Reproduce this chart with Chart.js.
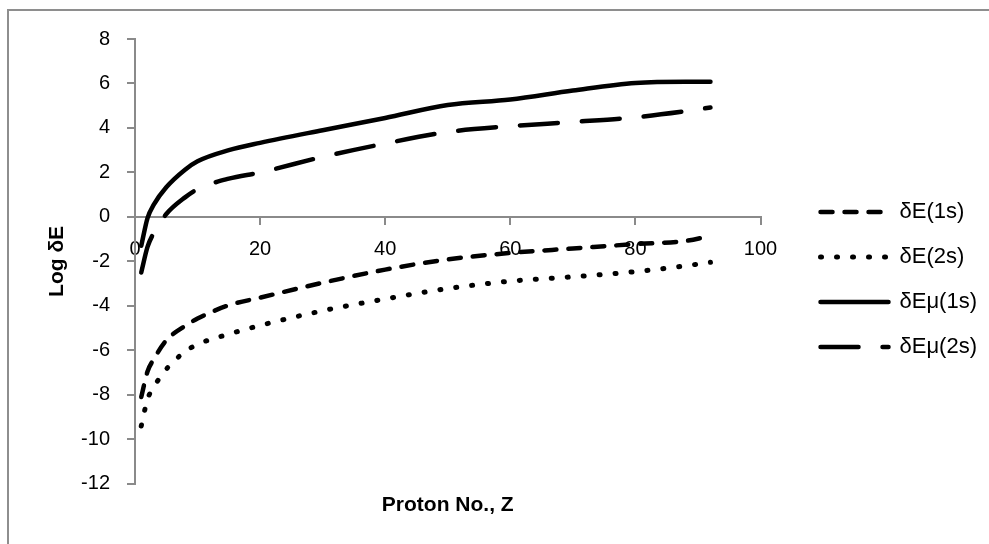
<!DOCTYPE html>
<html>
<head>
<meta charset="utf-8">
<script src="https://cdn.jsdelivr.net/npm/chart.js@4.4.0/dist/chart.umd.min.js"></script>
<style>
  html, body { margin: 0; padding: 0; background: #fff; overflow: hidden; }
  #frame { position: absolute; left: 7px; top: 9px; width: 1100px; height: 700px;
           border-left: 2px solid #8e8e8e; border-top: 2px solid #8e8e8e; }
  #chart { position: absolute; left: 0; top: 0; }
</style>
</head>
<body>
<div id="frame"></div>
<canvas id="chart" width="989" height="544"></canvas>
<script>
// proton number Z (x) and log of the energy shift for each series
const protonZ = [1, 2, 3, 5, 8, 10, 15, 20, 30, 40, 50, 60, 70, 80, 88, 92];
const dE1s    = [-8.1, -6.95, -6.4, -5.55, -4.9, -4.57, -3.97, -3.63, -2.96, -2.37, -1.91, -1.62, -1.42, -1.22, -1.08, -0.85];
const dE2s    = [-9.4, -8.2, -7.65, -6.85, -6.06, -5.73, -5.27, -4.88, -4.22, -3.69, -3.22, -2.89, -2.69, -2.46, -2.2, -2.04];
const dEmu1s  = [-1.3, -0.05, 0.55, 1.33, 2.12, 2.5, 3.0, 3.33, 3.9, 4.45, 5.03, 5.28, 5.68, 6.02, 6.08, 6.08];
const dEmu2s  = [-2.5, -1.35, -0.72, 0.13, 0.88, 1.25, 1.72, 2.0, 2.7, 3.3, 3.82, 4.08, 4.27, 4.48, 4.75, 4.92];

const seriesLabels = ['δE(1s)', 'δE(2s)', 'δEμ(1s)', 'δEμ(2s)'];

function points(values) {
  return protonZ.map((z, i) => ({ x: z, y: values[i] }));
}

const axisGrey = '#8a8a8a';

const datasets = [
  { label: seriesLabels[0], data: points(dE1s), borderDash: [12, 12], borderWidth: 4.5 },
  { label: seriesLabels[1], data: points(dE2s), borderDash: [1, 15], borderWidth: 5 },
  { label: seriesLabels[2], data: points(dEmu1s), borderDash: [], borderWidth: 4.5 },
  { label: seriesLabels[3], data: points(dEmu2s), borderDash: [38, 24], borderWidth: 4.5 }
].map(d => Object.assign(d, {
  borderColor: '#000',
  backgroundColor: '#000',
  pointRadius: 0,
  borderCapStyle: 'round',
  cubicInterpolationMode: 'monotone',
  fill: false
}));

new Chart(document.getElementById('chart'), {
  type: 'line',
  data: { datasets: datasets },
  options: {
    responsive: false,
    animation: false,
    devicePixelRatio: 1,
    layout: { padding: { left: 40, top: 39, bottom: 24, right: 2 } },
    scales: {
      x: {
        type: 'linear',
        min: 0,
        max: 100,
        position: { y: 0 },
        ticks: { stepSize: 20, color: '#000', font: { family: 'Liberation Sans', size: 20 }, padding: 14 },
        grid: { drawOnChartArea: false, tickLength: 7, color: axisGrey, lineWidth: 2 },
        border: { color: axisGrey, width: 2 }
      },
      y: {
        type: 'linear',
        min: -12,
        max: 8,
        ticks: { stepSize: 2, color: '#000', font: { family: 'Liberation Sans', size: 20 }, padding: 17 },
        grid: { drawOnChartArea: false, tickLength: 8, color: axisGrey, lineWidth: 2 },
        border: { color: axisGrey, width: 2 },
        title: {
          display: true,
          text: 'Log δE',
          color: '#000',
          font: { family: 'Liberation Sans', size: 21, weight: 'bold' },
          padding: { top: 5, bottom: 0 }
        },
        afterFit: s => { s.width = 95; }
      },
      // empty spacer between plot area and legend
      gap: {
        position: 'right',
        display: true,
        ticks: { display: false },
        grid: { display: false },
        border: { display: false },
        afterFit: s => { s.width = 37; }
      }
    },
    plugins: {
      legend: {
        position: 'right',
        maxWidth: 300,
        labels: {
          usePointStyle: true,
          pointStyle: 'line',
          pointStyleWidth: 68,
          padding: 23,
          color: '#000',
          font: { family: 'Liberation Sans', size: 22 },
          generateLabels: chart => chart.data.datasets.map((ds, i) => ({
            text: ds.label,
            datasetIndex: i,
            hidden: false,
            strokeStyle: ds.borderColor,
            fillStyle: ds.borderColor,
            lineWidth: ds.borderWidth,
            lineDash: ds.borderDash,
            lineCap: ds.borderCapStyle,
            pointStyle: 'line'
          }))
        }
      },
      title: {
        display: true,
        position: 'bottom',
        fullSize: false,
        text: 'Proton No., Z',
        color: '#000',
        font: { family: 'Liberation Sans', size: 21, weight: 'bold' },
        padding: { top: 9, bottom: 2 }
      },
      tooltip: { enabled: false }
    }
  }
});
</script>
</body>
</html>
